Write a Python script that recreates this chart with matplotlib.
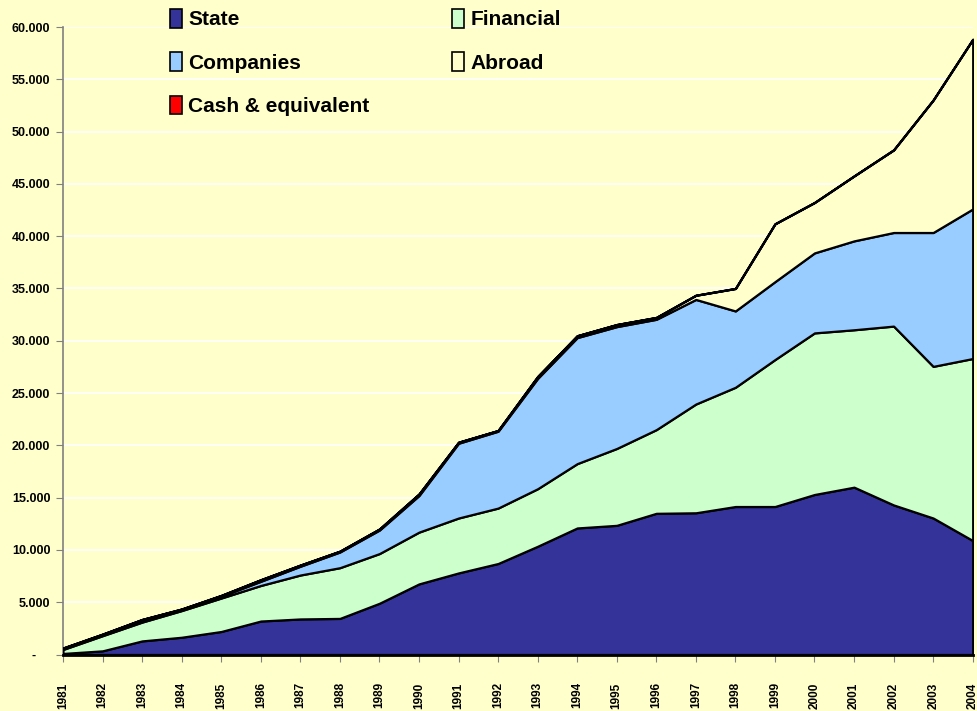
import matplotlib.pyplot as plt
from matplotlib.patches import Patch
from matplotlib.ticker import FuncFormatter, MultipleLocator

font = 'Liberation Sans'

years = list(range(1981, 2005))
state = [100, 350, 1300, 1650, 2200, 3200, 3400, 3450, 4900, 6750, 7800, 8700,
         10350, 12100, 12350, 13500, 13550, 14150, 14150, 15300, 16000, 14300, 13050, 10900]
financial = [380, 1450, 1800, 2550, 3200, 3400, 4200, 4850, 4750, 4950, 5250, 5300,
             5500, 6150, 7350, 8000, 10400, 11400, 14050, 15450, 15050, 17100, 14500, 17400]
companies = [90, 100, 180, 100, 170, 400, 840, 1500, 2250, 3500, 7150, 7350,
             10550, 12050, 11650, 10550, 10000, 7300, 7450, 7650, 8500, 8950, 12800, 14300]
abroad = [50, 50, 70, 50, 80, 150, 110, 80, 100, 150, 100, 70,
          180, 180, 200, 180, 400, 2150, 5530, 4820, 6210, 7900, 12670, 16220]
cash = [0] * 24

labels = ['State', 'Financial', 'Companies', 'Abroad', 'Cash & equivalent']
colors = ['#333399', '#CCFFCC', '#99CCFF', '#FFFFCC', '#FF0000']
bg = '#FFFFCC'

fig = plt.figure(figsize=(9.77, 7.11), dpi=100, facecolor=bg)
ax = fig.add_axes([63 / 977, 1 - 654.5 / 711, (972.7 - 63) / 977, (654.5 - 27) / 711])
ax.set_facecolor(bg)

ax.stackplot(years, state, financial, companies, abroad, cash,
             colors=colors, edgecolor='black', linewidth=1.6, zorder=3)

ax.set_xlim(1981, 2004)
ax.set_ylim(0, 60000)
ax.yaxis.set_major_locator(MultipleLocator(5000))
ax.yaxis.set_major_formatter(FuncFormatter(
    lambda v, p: '-    ' if v == 0 else f'{int(v):,}'.replace(',', '.')))
ax.set_xticks(years)
ax.set_xticklabels([str(y) for y in years], rotation=90)
ax.grid(axis='y', color='white', linewidth=1.2, zorder=0)
ax.set_axisbelow(True)

for s in ['top', 'right']:
    ax.spines[s].set_visible(False)
ax.spines['left'].set_color('#808080')
ax.spines['left'].set_linewidth(1.2)
ax.spines['bottom'].set_color('black')
ax.spines['bottom'].set_linewidth(2)
ax.spines['bottom'].set_zorder(4)

ax.tick_params(axis='y', length=5, color='#808080', pad=4)
ax.tick_params(axis='x', length=5, color='#808080', pad=15)
for t in ax.get_yticklabels():
    t.set_fontfamily(font)
    t.set_fontweight('bold')
    t.set_fontsize(9)
for t in ax.get_xticklabels():
    t.set_fontfamily(font)
    t.set_fontweight('bold')
    t.set_fontsize(8.5)

order = [0, 2, 4, 1, 3]
handles = [Patch(facecolor=colors[i], edgecolor='black', linewidth=1.2) for i in order]
leg = fig.legend(handles, [labels[i] for i in order], ncol=2, loc='upper left',
                 bbox_to_anchor=(170 / 977, 1 - 9 / 711), frameon=False,
                 prop={'family': font, 'weight': 'bold', 'size': 15},
                 handlelength=0.58, handleheight=1.0, handletextpad=0.3,
                 labelspacing=1.1, columnspacing=3.97, borderaxespad=0, borderpad=0)

fig.savefig('out.png', dpi=100, facecolor=bg)
